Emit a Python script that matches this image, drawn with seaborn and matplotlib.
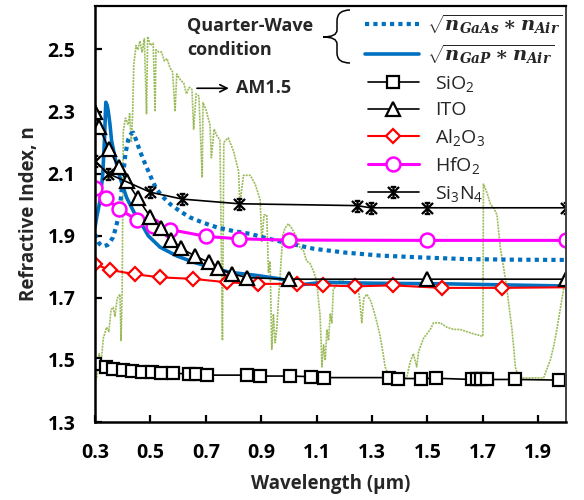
import matplotlib
matplotlib.use("Agg")
import matplotlib.pyplot as plt
from matplotlib.path import Path
from matplotlib.patches import PathPatch
import seaborn as sns

# ---- refractive index data (wavelength in µm) ----
sio2_wl = [0.30, 0.34, 0.365, 0.40, 0.435, 0.47, 0.505, 0.54, 0.58, 0.64, 0.665, 0.705,
           0.85, 0.895, 1.005, 1.08, 1.125, 1.36, 1.395, 1.475, 1.53, 1.66, 1.68, 1.695,
           1.715, 1.815, 1.975]
sio2_n = [1.486, 1.478, 1.472, 1.467, 1.464, 1.461, 1.461, 1.458, 1.458, 1.454, 1.454, 1.451,
          1.451, 1.448, 1.448, 1.446, 1.443, 1.443, 1.440, 1.440, 1.441, 1.437, 1.437, 1.437,
          1.437, 1.437, 1.435]

ito_wl = [0.30, 0.315, 0.35, 0.385, 0.415, 0.455, 0.50, 0.54, 0.575, 0.61, 0.66, 0.71,
          0.745, 0.795, 0.85, 1.0, 1.5, 2.0]
ito_n = [2.30, 2.25, 2.18, 2.12, 2.075, 2.02, 1.96, 1.925, 1.885, 1.86, 1.835, 1.815,
         1.795, 1.777, 1.765, 1.76, 1.76, 1.76]

al2o3_wl = [0.30, 0.354, 0.444, 0.535, 0.655, 0.776, 0.89, 1.028, 1.124, 1.239, 1.377,
            1.552, 1.769, 2.0]
al2o3_n = [1.808, 1.790, 1.776, 1.766, 1.761, 1.750, 1.745, 1.745, 1.740, 1.737, 1.740,
           1.732, 1.732, 1.734]

hfo2_wl = [0.30, 0.34, 0.385, 0.45, 0.51, 0.57, 0.70, 0.82, 1.0, 1.5, 2.0]
hfo2_n = [2.055, 2.02, 1.987, 1.952, 1.93, 1.92, 1.898, 1.89, 1.886, 1.885, 1.885]

si3n4_wl = [0.30, 0.348, 0.50, 0.615, 0.82, 1.245, 1.295, 1.5, 2.0]
si3n4_n = [2.14, 2.10, 2.04, 2.018, 2.003, 1.997, 1.99, 1.99, 1.99]

# quarter-wave index sqrt(n_sub * n_air)
gaas_wl = [0.30, 0.306, 0.315, 0.324, 0.335, 0.345, 0.354, 0.365, 0.375, 0.384, 0.393,
           0.402, 0.41, 0.42, 0.43, 0.438, 0.45, 0.462, 0.477, 0.492, 0.507, 0.522, 0.545,
           0.571, 0.605, 0.643, 0.69, 0.74, 0.80, 0.86, 0.92, 0.98, 1.09, 1.2, 1.33, 1.48,
           1.63, 1.8, 2.0]
gaas_n = [1.905, 1.89, 1.875, 1.868, 1.867, 1.870, 1.879, 1.895, 1.925, 1.959, 2.02,
          2.098, 2.165, 2.21, 2.228, 2.232, 2.205, 2.173, 2.14, 2.109, 2.078, 2.05, 2.025,
          2.002, 1.98, 1.959, 1.942, 1.927, 1.915, 1.906, 1.892, 1.879, 1.858, 1.846, 1.836,
          1.830, 1.825, 1.823, 1.822]

gap_wl = [0.300, 0.306, 0.318, 0.328, 0.334, 0.339, 0.344, 0.348, 0.354, 0.36, 0.372, 0.39,
          0.414, 0.444, 0.47, 0.492, 0.535, 0.595, 0.655, 0.715, 0.788, 0.884, 0.968, 1.04,
          1.124, 1.3, 1.57, 2.0]
gap_n = [1.927, 1.959, 2.013, 2.098, 2.205, 2.330, 2.32, 2.30, 2.259, 2.205, 2.152, 2.088,
         2.023, 1.97, 1.935, 1.90, 1.863, 1.835, 1.815, 1.799, 1.782, 1.772, 1.761, 1.742,
         1.750, 1.747, 1.745, 1.738]

# ---- AM1.5 spectral irradiance (W m^-2 nm^-1) ----
am_wl = [0.300, 0.306, 0.315, 0.322, 0.330, 0.342, 0.350, 0.358, 0.366, 0.372, 0.380, 0.390,
         0.394, 0.398, 0.402, 0.410, 0.420, 0.425, 0.431, 0.436, 0.440, 0.448, 0.455, 0.462,
         0.470, 0.478, 0.486, 0.490, 0.500, 0.510, 0.517, 0.520, 0.530, 0.540, 0.550, 0.560,
         0.570, 0.580, 0.589, 0.595, 0.610, 0.620, 0.630, 0.640, 0.650, 0.656, 0.665, 0.675,
         0.687, 0.690, 0.700, 0.715, 0.720, 0.730, 0.740, 0.751, 0.760, 0.765, 0.781, 0.800,
         0.818, 0.823, 0.836, 0.860, 0.878, 0.896, 0.902, 0.910, 0.920, 0.926, 0.932, 0.938,
         0.944, 0.950, 0.956, 0.962, 0.970, 0.978, 0.986, 0.998, 1.010, 1.028, 1.040, 1.052,
         1.064, 1.076, 1.090, 1.100, 1.106, 1.112, 1.116, 1.119, 1.125, 1.131, 1.137, 1.143,
         1.149, 1.155, 1.160, 1.170, 1.179, 1.197, 1.210, 1.221, 1.235, 1.245, 1.255, 1.263,
         1.270, 1.281, 1.295, 1.305, 1.318, 1.329, 1.340, 1.347, 1.360, 1.365, 1.400, 1.425,
         1.437, 1.449, 1.461, 1.468, 1.474, 1.486, 1.498, 1.510, 1.522, 1.546, 1.570, 1.595,
         1.618, 1.642, 1.666, 1.696, 1.700, 1.702, 1.715, 1.727, 1.740, 1.751, 1.763, 1.775,
         1.787, 1.796, 1.805, 1.811, 1.817, 1.829, 1.870, 1.919, 1.931, 1.943, 1.955, 1.967,
         1.979, 1.991, 2.000]
am_irr = [0.00, 0.01, 0.12, 0.08, 0.19, 0.24, 0.22, 0.32, 0.33, 0.29, 0.37, 0.39,
          0.18, 0.40, 1.13, 1.19, 1.16, 1.21, 1.08, 1.22, 1.43, 1.52, 1.50, 1.54,
          1.49, 1.55, 1.21, 1.56, 1.52, 1.53, 1.22, 1.50, 1.49, 1.49, 1.45, 1.46,
          1.42, 1.40, 1.22, 1.39, 1.36, 1.35, 1.30, 1.33, 1.32, 1.14, 1.30, 1.29,
          0.92, 1.26, 1.23, 1.16, 1.01, 1.14, 1.11, 1.09, 0.18, 1.08, 1.10, 1.04,
          0.95, 0.80, 0.93, 0.93, 0.89, 0.82, 0.63, 0.75, 0.75, 0.49, 0.54, 0.14,
          0.30, 0.17, 0.23, 0.36, 0.51, 0.66, 0.69, 0.71, 0.69, 0.65, 0.60, 0.59,
          0.54, 0.53, 0.49, 0.45, 0.37, 0.30, 0.18, 0.06, 0.16, 0.09, 0.23, 0.18,
          0.30, 0.26, 0.41, 0.43, 0.45, 0.45, 0.44, 0.42, 0.44, 0.45, 0.37, 0.26,
          0.37, 0.39, 0.36, 0.32, 0.26, 0.20, 0.12, 0.06, 0.02, 0.01, 0.01, 0.01,
          0.08, 0.12, 0.06, 0.13, 0.15, 0.19, 0.21, 0.23, 0.26, 0.26, 0.24, 0.23,
          0.23, 0.22, 0.21, 0.20, 0.20, 0.89, 0.85, 0.80, 0.78, 0.75, 0.60, 0.51,
          0.41, 0.32, 0.23, 0.15, 0.06, 0.01, 0.01, 0.01, 0.05, 0.09, 0.15, 0.23,
          0.32, 0.41, 0.45]

material_labels = [r"SiO$\mathregular{_2}$", "ITO", r"Al$\mathregular{_2}$O$\mathregular{_3}$",
                   r"HfO$\mathregular{_2}$", r"Si$\mathregular{_3}$N$\mathregular{_4}$"]
qw_labels = [r"$\sqrt{n_{GaAs}\ast n_{Air}}$", r"$\sqrt{n_{GaP}\ast n_{Air}}$"]
x_ticks = [0.3, 0.5, 0.7, 0.9, 1.1, 1.3, 1.5, 1.7, 1.9]
y_ticks = [1.3, 1.5, 1.7, 1.9, 2.1, 2.3, 2.5]

# ---- styling ----
sns.set_style("ticks")
plt.rcParams["font.family"] = ["Open Sans", "DejaVu Sans"]
plt.rcParams["mathtext.fontset"] = "custom"
plt.rcParams["mathtext.it"] = "DejaVu Serif:italic:bold"
plt.rcParams["mathtext.rm"] = "DejaVu Serif:bold"
plt.rcParams["mathtext.bf"] = "DejaVu Serif:bold"

fig = plt.figure(figsize=(5.84, 5.0), dpi=100)
AX_L, AX_T, AX_W, AX_H = 95, 6, 471, 416
ax = fig.add_axes([AX_L / 584, (500 - AX_T - AX_H) / 500, AX_W / 584, AX_H / 500])


def frac(px, py):
    """Pixel position inside the figure -> axes fraction."""
    return (px - AX_L) / AX_W, 1 - (py - AX_T) / AX_H


# solar spectrum on a hidden twin axis, behind the index curves
ax2 = ax.twinx()
sns.lineplot(x=am_wl, y=am_irr, ax=ax2, color="#9BBB59", lw=1.2, linestyle=(0, (1.2, 0.6)),
             errorbar=None, legend=False)
ax2.set_ylim((1.3 - 1.435) * 1.41, (2.64 - 1.435) * 1.41)
ax2.set_axis_off()
ax.set_zorder(ax2.get_zorder() + 1)
ax.patch.set_visible(False)

blue = "#0070C0"
sns.lineplot(x=gaas_wl, y=gaas_n, ax=ax, color=blue, lw=3.0, linestyle=(0, (1, 1)),
             errorbar=None, legend=False)
h_gaas = ax.lines[-1]
sns.lineplot(x=gap_wl, y=gap_n, ax=ax, color=blue, lw=2.6, errorbar=None, legend=False)
h_gap = ax.lines[-1]

sns.lineplot(x=al2o3_wl, y=al2o3_n, ax=ax, color="#FF0000", lw=1.5, marker="D", ms=7.5,
             mfc="white", mec="#FF0000", mew=1.6, markevery=list(range(len(al2o3_wl) - 1)),
             errorbar=None, legend=False)
h_al = ax.lines[-1]
sns.lineplot(x=hfo2_wl, y=hfo2_n, ax=ax, color="#FF00FF", lw=2.2, marker="o", ms=10,
             mfc="white", mec="#FF00FF", mew=1.8, errorbar=None, legend=False)
h_hf = ax.lines[-1]
sns.lineplot(x=sio2_wl, y=sio2_n, ax=ax, color="black", lw=1.2, marker="s", ms=9,
             mfc="white", mec="black", mew=1.6, errorbar=None, legend=False)
h_si = ax.lines[-1]
sns.lineplot(x=ito_wl, y=ito_n, ax=ax, color="black", lw=1.2, marker="^", ms=10,
             mfc="white", mec="black", mew=1.6, errorbar=None, legend=False)
h_ito = ax.lines[-1]

star = Path([(-1, -1), (1, 1), (-1, 1), (1, -1), (0, -1), (0, 1),
             (-0.5, 1), (0.5, 1), (-0.5, -1), (0.5, -1)],
            [Path.MOVETO, Path.LINETO] * 5)
sns.lineplot(x=si3n4_wl, y=si3n4_n, ax=ax, color="black", lw=1.2, marker=star, ms=8,
             mfc="none", mec="black", mew=1.6, errorbar=None, legend=False)
h_sin = ax.lines[-1]

# ---- axes ----
ax.set_xlim(0.3, 2.0)
ax.set_ylim(1.3, 2.64)
ax.set_xticks(x_ticks)
ax.set_xticklabels([f"{v:.1f}" for v in x_ticks])
ax.set_yticks(y_ticks)
ax.set_yticklabels([f"{v:.1f}" for v in y_ticks])
ax.tick_params(axis="both", direction="in", length=5, width=1.6, labelsize=14,
               colors="black")
ax.tick_params(axis="y", pad=14)
ax.tick_params(axis="x", pad=15)
for lab in ax.get_xticklabels() + ax.get_yticklabels():
    lab.set_fontweight("bold")
for side in ["left", "bottom"]:
    ax.spines[side].set_linewidth(1.8)
    ax.spines[side].set_color("black")
ax.spines["top"].set_linewidth(1.6)
ax.spines["top"].set_color("black")
ax.spines["right"].set_linewidth(1.4)
ax.spines["right"].set_color("#404040")

ax.set_xlabel("Wavelength (µm)", fontsize=13.5, fontweight="bold", labelpad=8)
ax.set_ylabel("Refractive Index, n", fontsize=13.5, fontweight="bold", labelpad=6)

# ---- legends ----
leg1 = ax.legend([h_si, h_ito, h_al, h_hf, h_sin], material_labels,
                 loc="upper left", bbox_to_anchor=frac(368, 74),
                 frameon=False, fontsize=14, handlelength=2.6, handletextpad=0.85,
                 labelspacing=0.38, borderpad=0, borderaxespad=0)
ax.add_artist(leg1)
leg2 = ax.legend([h_gaas, h_gap], qw_labels,
                 loc="upper left", bbox_to_anchor=frac(365, 13),
                 frameon=False, fontsize=14, handlelength=2.8, handletextpad=0.4,
                 labelspacing=0.35, borderpad=0, borderaxespad=0)

ax.text(*frac(187, 38), "Quarter-Wave\ncondition",
        transform=ax.transAxes, ha="left", va="center", fontsize=13,
        fontweight="bold", linespacing=1.4)

# curly brace grouping the two quarter-wave curves
brace_px = [(350, 10), (337, 10), (337, 21), (337, 30), (337, 37), (323, 37),
            (337, 37), (337, 44), (337, 53), (337, 63), (350, 63)]
brace_codes = [Path.MOVETO, Path.CURVE3, Path.CURVE3, Path.LINETO, Path.CURVE3, Path.CURVE3,
               Path.CURVE3, Path.CURVE3, Path.LINETO, Path.CURVE3, Path.CURVE3]
ax.add_patch(PathPatch(Path([frac(*p) for p in brace_px], brace_codes),
                       transform=ax.transAxes, fill=False, lw=1.1, ec="black",
                       clip_on=False))

ax.annotate("AM1.5", xy=(0.668, 2.375), xytext=(0.81, 2.375), ha="left", va="center",
            fontsize=13, fontweight="bold",
            arrowprops=dict(arrowstyle="<-", color="black", lw=1.2,
                            shrinkA=3, shrinkB=0))

fig.savefig("out.png", dpi=100)
